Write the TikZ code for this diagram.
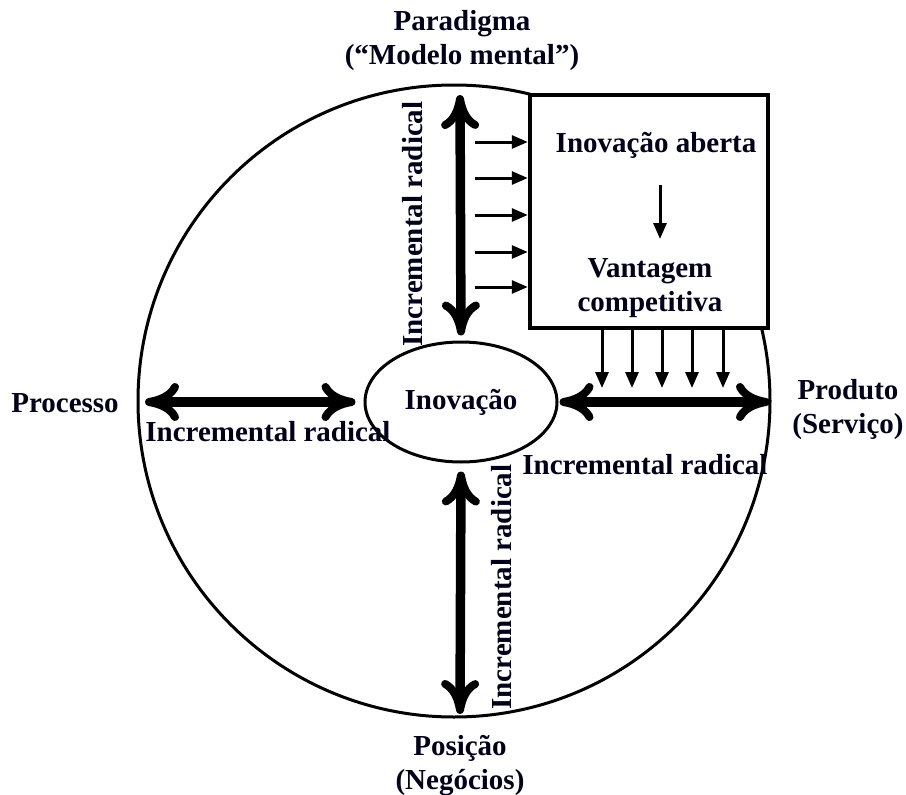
\documentclass[tikz,border=0pt]{standalone}
\usepackage{fontspec}
\setmainfont{Liberation Serif}
\usetikzlibrary{arrows.meta,shapes.geometric,calc}

\begin{document}
\begin{tikzpicture}[x=1pt,y=-1pt,
  lbl/.style={font=\bfseries\fontsize{29}{34}\selectfont, align=center, inner sep=0pt, text=black!90!blue},
  bigtip/.tip={Computer Modern Rightarrow[length=34pt,width=38pt,line width=8pt]},
  big/.style={line width=9.5pt, {bigtip}-{bigtip}},
  small/.style={line width=3pt, -{Triangle[length=16pt,width=13pt]}}]
\useasboundingbox (0,0) rectangle (906,795);

% outer circle and central ellipse
\node[circle, draw, line width=3pt, minimum size=632pt, inner sep=0pt] (outer) at (454,401) {};
\node[ellipse, draw, line width=3pt, minimum width=192pt, minimum height=120pt, lbl] (ino) at (461,402) {Inovação};

% open innovation box (covers the circle)
\node[draw, fill=white, line width=4.5pt, minimum width=238pt, minimum height=233pt, inner sep=0pt] (box) at (649,211.5) {};
\node[lbl] (ia) at (656,145) {Inovação aberta};
\node[lbl] (va) at (650,288) {Vantagem\\competitiva};
\coordinate (ia1) at (660,185);
\coordinate (va1) at (660,239);
\draw[small] (ia1) -- (va1);

% end points of the four axes
\coordinate (pT) at (460,95);
\coordinate (pB) at (460,714);
\coordinate (pL) at (145,402);
\coordinate (pR) at (770,402);

\draw[big] (pT) -- ([yshift=5pt]ino.north);
\draw[big] (pB) -- ([yshift=-8pt]ino.south);
\draw[big] (pL) -- ([xshift=-8pt]ino.west);
\draw[big] ([xshift=1pt]ino.east) -- (pR);

% feed arrows into and out of the box
\foreach \y [count=\i] in {142,178,215,252,287}{
  \coordinate (h\i) at (475,\y);
  \draw[small] (h\i) -- (h\i -| box.west);
}
\foreach \x [count=\i] in {602,632,662,692,723}{
  \coordinate (v\i) at (\x,388);
  \draw[small] (v\i |- box.south) -- (v\i);
}

% outer labels
\node[lbl] (par) at (462,41) {Paradigma\\(“Modelo mental”)};
\node[lbl] (pos) at (460,766) {Posição\\(Negócios)};
\node[lbl] (proc) at (65,403) {Processo};
\node[lbl] (prod) at (848,410) {Produto\\(Serviço)};

% axis labels
\node[lbl] (iL) at (268,432) {Incremental radical};
\node[lbl] (iR) at (645,465) {Incremental radical};
\node[lbl, rotate=90] (iT) at (413,224) {Incremental radical};
\node[lbl, rotate=90] (iB) at (502,587) {Incremental radical};
\end{tikzpicture}
\end{document}
